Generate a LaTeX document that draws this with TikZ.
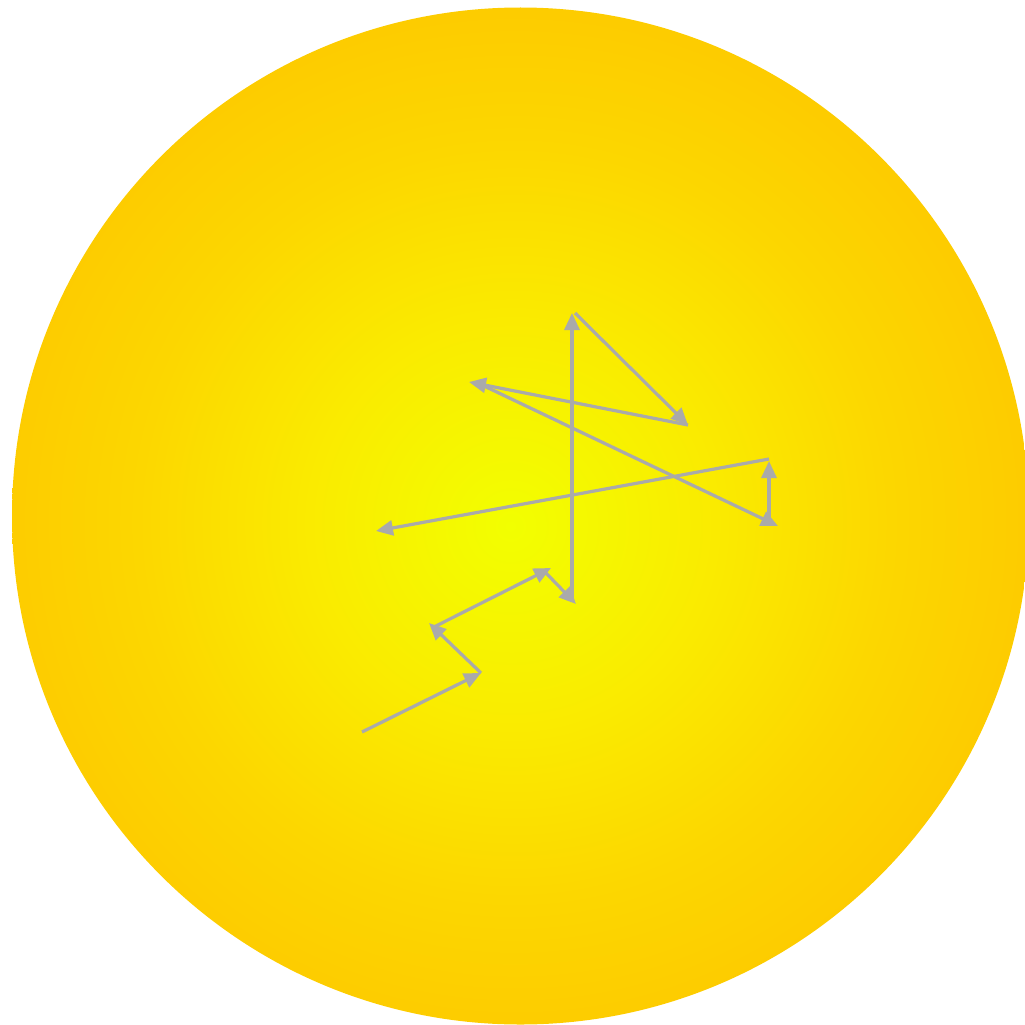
\documentclass[tikz,border=0pt]{standalone}
\usetikzlibrary{arrows.meta}
\definecolor{sunA}{RGB}{242,255,0}
\definecolor{sunB}{RGB}{250,235,0}
\definecolor{sunC}{RGB}{252,215,0}
\definecolor{sunD}{RGB}{253,204,0}
\definecolor{walkgray}{RGB}{170,170,170}
\pgfdeclareradialshading{sunshade}{\pgfpoint{-0.5bp}{-0.5bp}}{color(0bp)=(sunA); color(10bp)=(sunB); color(18.5bp)=(sunC); color(25bp)=(sunD); color(50bp)=(sunD)}
\tikzset{
  walk/.style={draw=walkgray, line width=3.2pt, -{Triangle[length=17pt,width=15pt]}}
}
\begin{document}
\begin{tikzpicture}[x=1pt,y=-1pt]
\useasboundingbox (0,0) rectangle (1025,1025);
\clip (0,0) rectangle (1025,1025);
\coordinate (ctr) at (520.5,516);
\shade[shading=sunshade] (ctr) circle (508.5);
\coordinate (p0) at (362,732);
\coordinate (p1) at (481,673);
\coordinate (p2) at (429,623);
\coordinate (p2b) at (432,628);
\coordinate (p3) at (551,568);
\coordinate (p3b) at (545,572);
\coordinate (p4) at (576,604);
\coordinate (p4b) at (572,602);
\coordinate (p5) at (572,313);
\coordinate (p5b) at (575,313);
\coordinate (p6) at (688,425);
\coordinate (p7) at (469,382);
\coordinate (p7b) at (482,385);
\coordinate (p8) at (778,526);
\coordinate (p8b) at (769,526);
\coordinate (p9) at (769,461);
\coordinate (p9b) at (769,459);
\coordinate (p10) at (376,531);
\draw[walk] (p0) -- (p1);
\draw[walk] (p1) -- (p2);
\draw[walk] (p2b) -- (p3);
\draw[walk] (p3b) -- (p4);
\draw[walk] (p4b) -- (p5);
\draw[walk] (p5b) -- (p6);
\draw[walk] (p6) -- (p7);
\draw[walk] (p7b) -- (p8);
\draw[walk] (p8b) -- (p9);
\draw[walk] (p9b) -- (p10);
\end{tikzpicture}
\end{document}
